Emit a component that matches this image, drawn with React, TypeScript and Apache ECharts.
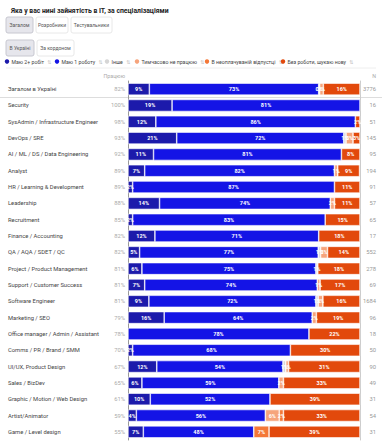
import React, { useEffect, useRef } from "react";
import * as echarts from "echarts";

const categories = [
  "Загалом в Україні",
  "Security",
  "SysAdmin / Infrastructure Engineer",
  "DevOps / SRE",
  "AI / ML / DS / Data Engineering",
  "Analyst",
  "HR / Learning & Development",
  "Leadership",
  "Recruitment",
  "Finance / Accounting",
  "QA / AQA / SDET / QC",
  "Project / Product Management",
  "Support / Customer Success",
  "Software Engineer",
  "Marketing / SEO",
  "Office manager / Admin / Assistant",
  "Comms / PR / Brand / SMM",
  "UI/UX, Product Design",
  "Sales / BizDev",
  "Graphic / Motion / Web Design",
  "Artist/Animator",
  "Game / Level design",
];

const working = [82, 100, 98, 93, 92, 89, 89, 88, 85, 82, 82, 81, 81, 81, 79, 78, 70, 67, 65, 61, 59, 55];
const counts = [3776, 16, 51, 145, 95, 194, 91, 57, 65, 17, 552, 278, 69, 1684, 96, 18, 50, 90, 49, 31, 54, 31];

const twoJobs = [9.2, 19, 12, 21, 11, 7.2, 2, 13.6, 2, 11.6, 5, 6, 7.2, 9, 15.6, 0, 2, 12.4, 6, 9.6, 3.6, 6.6];
const oneJob = [73, 81, 86, 72, 81, 81.8, 87, 73.6, 83, 70.6, 77, 75, 74.4, 72, 63.8, 78, 68, 54.4, 59, 51.6, 55.6, 47.6];
const other = [0.4, 0, 0, 1, 0, 0, 0, 0, 0, 0, 1, 0.8, 0, 1, 0, 0, 0, 1.2, 0, 0, 0, 0];
const tempOff = [1.6, 0, 0, 3, 0, 1.4, 0, 1.8, 0, 0, 3, 0, 1.2, 2, 1.8, 0, 0, 1.2, 2, 0, 6, 0];
const unpaid = [0, 0, 0, 0, 0, 0, 0, 0, 0, 0, 0, 0, 0, 0, 0, 0, 0, 0, 0, 0, 1.8, 6.6];
const unemployed = [15.8, 0, 2, 3, 8, 9.4, 11, 11, 15, 17.8, 14, 18.2, 17.2, 16, 18.8, 22, 30, 30.8, 33, 38.8, 33, 39.2];

const seriesNames = [
  "Маю 2+ робіт",
  "Маю 1 роботу",
  "Інше",
  "Тимчасово не працюю",
  "В неоплачуваній відпустці",
  "Без роботи, шукаю нову",
];
const seriesColors = ["#1c1aab", "#1414e6", "#d6d6d6", "#f6a47c", "#f47838", "#e2490c"];

const buttons1 = ["Загалом", "Розробники", "Тестувальники"];
const buttons2 = ["В Україні", "За кордоном"];

export default function App() {
  const ref = useRef<HTMLDivElement>(null);
  useEffect(() => {
    if (!ref.current) return;
    const chart = echarts.init(ref.current, undefined, { renderer: "svg" });
    const font = "Roboto, 'Noto Sans', sans-serif";
    const values = [twoJobs, oneJob, other, tempOff, unpaid, unemployed];

    const makeButtons = (labels: string[], y: number, widths: number[], selected: number) => {
      const els: any[] = [];
      let x = 6;
      labels.forEach((l, i) => {
        const w = widths[i];
        els.push({
          type: "rect",
          shape: { x, y, width: w, height: 16, r: 2 },
          style: {
            fill: i === selected ? "#e6e6ec" : "#fff",
            stroke: i === selected ? "#c8c8d0" : "#e8e8e8",
            lineWidth: 1,
          },
        });
        els.push({
          type: "text",
          x: x + w / 2,
          y: y + 8,
          style: {
            text: l,
            fontSize: 5,
            fontFamily: font,
            fill: "#555",
            align: "center",
            verticalAlign: "middle",
          },
        });
        x += w + 3;
      });
      return els;
    };

    const legendX = [7, 57, 107, 137, 207, 283];
    const legendEls: any[] = [];
    seriesNames.forEach((n, i) => {
      legendEls.push({
        type: "circle",
        shape: { cx: legendX[i], cy: 61.5, r: 2.2 },
        style: { fill: seriesColors[i] },
      });
      legendEls.push({
        type: "text",
        x: legendX[i] + 4.5,
        y: 61.5,
        style: {
          text: `{n|${n}} {i|⇅}`,
          verticalAlign: "middle",
          rich: {
            n: { fontSize: 5.2, fill: "#444", fontFamily: font },
            i: { fontSize: 5, fill: "#c0c0c0", fontFamily: "DejaVu Sans" },
          },
        },
      });
    });

    chart.setOption({
      animation: false,
      title: {
        text: "Яка у вас нині зайнятість в IT, за спеціалізаціями",
        left: 6,
        top: 2,
        textStyle: { fontSize: 6.8, fontWeight: "bold", fontFamily: font, color: "#222" },
      },
      graphic: [
        ...makeButtons(buttons1, 17, [27, 32, 41], 0),
        ...makeButtons(buttons2, 40, [28, 37], 0),
        ...legendEls,
        { type: "line", shape: { x1: 6, y1: 68, x2: 376, y2: 68 }, style: { stroke: "#eee", lineWidth: 1 } },
        {
          type: "text",
          x: 125,
          y: 76,
          style: { text: "Працюю", fontSize: 5.3, fontFamily: font, fill: "#aaa", align: "right", verticalAlign: "middle" },
        },
        {
          type: "text",
          x: 376,
          y: 76,
          style: { text: "N", fontSize: 5.3, fontFamily: font, fill: "#aaa", align: "right", verticalAlign: "middle" },
        },
        { type: "line", shape: { x1: 0, y1: 97.5, x2: 382, y2: 97.5 }, style: { stroke: "#ddd", lineWidth: 1 } },
      ],
      grid: { left: 128, right: 22, top: 81, bottom: 6 },
      xAxis: {
        type: "value",
        min: 0,
        max: 100,
        show: false,
      },
      yAxis: [
        {
          type: "category",
          inverse: true,
          data: categories,
          axisTick: { show: false },
          axisLine: { show: true, lineStyle: { color: "#999", width: 1 } },
          axisLabel: {
            margin: 3,
            formatter: (v: string, i: number) => `{a|${v}}{b|${working[i]}%}`,
            rich: {
              a: { width: 95, align: "left", fontSize: 5.8, color: "#444", fontFamily: font },
              b: { width: 22, align: "right", fontSize: 5.8, color: "#aaa", fontFamily: font },
            },
          },
        },
        {
          type: "category",
          inverse: true,
          position: "right",
          data: counts.map(String),
          axisTick: { show: false },
          axisLine: { show: true, lineStyle: { color: "#ccc", width: 1 } },
          axisLabel: {
            margin: 16,
            align: "right",
            fontSize: 5.8,
            color: "#999",
            fontFamily: font,
          },
        },
      ],
      series: seriesNames.map((name, si) => ({
        name,
        type: "bar",
        stack: "total",
        yAxisIndex: 0,
        barWidth: 12,
        data: values[si].map((v) => (v > 0 ? v : null)),
        itemStyle: { color: seriesColors[si], borderColor: "#fff", borderWidth: 0.6 },
        label: {
          show: true,
          position: "inside",
          fontSize: 5.5,
          fontWeight: "bold",
          fontFamily: font,
          color: "#fff",
          formatter: (p: any) => (p.value > 0 ? `${Math.round(p.value)}%` : ""),
        },
      })),
    });
    return () => chart.dispose();
  }, []);
  return (
    <div
      ref={ref}
      style={{ width: 382, height: 446, position: "absolute", left: 0, top: 0 }}
    />
  );
}
